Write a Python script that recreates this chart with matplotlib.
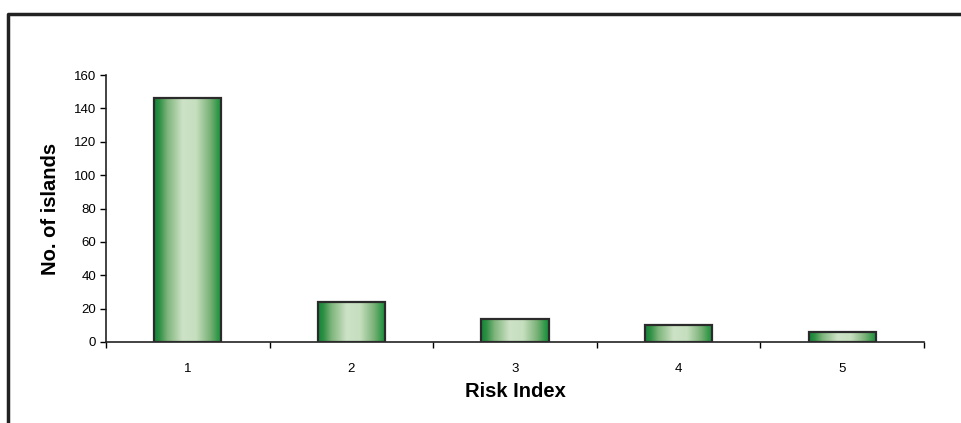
import numpy as np
import matplotlib
matplotlib.use("Agg")
import matplotlib.pyplot as plt
from matplotlib.colors import LinearSegmentedColormap
from matplotlib.lines import Line2D
from matplotlib.patches import Rectangle

plt.rcParams['font.family'] = ['Liberation Sans', 'DejaVu Sans']

# ── Data ───────────────────────────────────────────────────────
risk_index = [1, 2, 3, 4, 5]
n_islands = [146, 24, 14, 10, 6]
y_ticks = [0, 20, 40, 60, 80, 100, 120, 140, 160]

# ── Style ──────────────────────────────────────────────────────
W, H = 962, 423
bar_width = 0.41
green = LinearSegmentedColormap.from_list(
    "bar_green",
    [(0.0, "#11853a"), (0.08, "#2f8f45"), (0.2, "#7fb57c"), (0.42, "#cde2c6"),
     (0.62, "#c6dfbf"), (0.82, "#7db37a"), (0.93, "#3a9a4c"), (1.0, "#0f8f3d")])

fig = plt.figure(figsize=(W / 100, H / 100), dpi=100)
ax = fig.add_axes([106 / W, 1 - 342 / H, (924 - 106) / W, (342 - 75) / H])

# outer frame (only top and left visible)
fig.add_artist(Line2D([8 / W, 8 / W, 1.0], [0.0, 1 - 14 / H, 1 - 14 / H],
                      transform=fig.transFigure, color="#222222", lw=2.5))

grad = np.linspace(0, 1, 256).reshape(1, -1)
for x, v in zip(risk_index, n_islands):
    x0 = x - bar_width / 2
    rect = Rectangle((x0, 0), bar_width, v, facecolor="none",
                     edgecolor="#2b2b2b", lw=1.6, zorder=3)
    ax.add_patch(rect)
    im = ax.imshow(grad, cmap=green, aspect="auto",
                   extent=(x0, x0 + bar_width, 0, v), zorder=2)
    im.set_clip_path(rect)

ax.set_xlim(0.5, 5.5)
ax.set_ylim(0, 160)
ax.set_yticks(y_ticks)
ax.set_xticks(risk_index)
ax.set_xticks(np.arange(0.5, 6.0, 1.0), minor=True)
ax.tick_params(axis="x", which="major", length=0, pad=15, labelsize=9.5)
ax.tick_params(axis="x", which="minor", length=4, direction="out", width=1)
ax.tick_params(axis="y", length=4, direction="out", width=1, labelsize=9.5, pad=3)

for side in ["top", "right"]:
    ax.spines[side].set_visible(False)
for side in ["left", "bottom"]:
    ax.spines[side].set_color("#222222")
    ax.spines[side].set_linewidth(1.2)

ax.set_xlabel("Risk Index", fontsize=14.5, fontweight="bold", labelpad=5)
ax.set_ylabel("No. of islands", fontsize=14.5, fontweight="bold", labelpad=10)

fig.savefig("out.png", dpi=100)
